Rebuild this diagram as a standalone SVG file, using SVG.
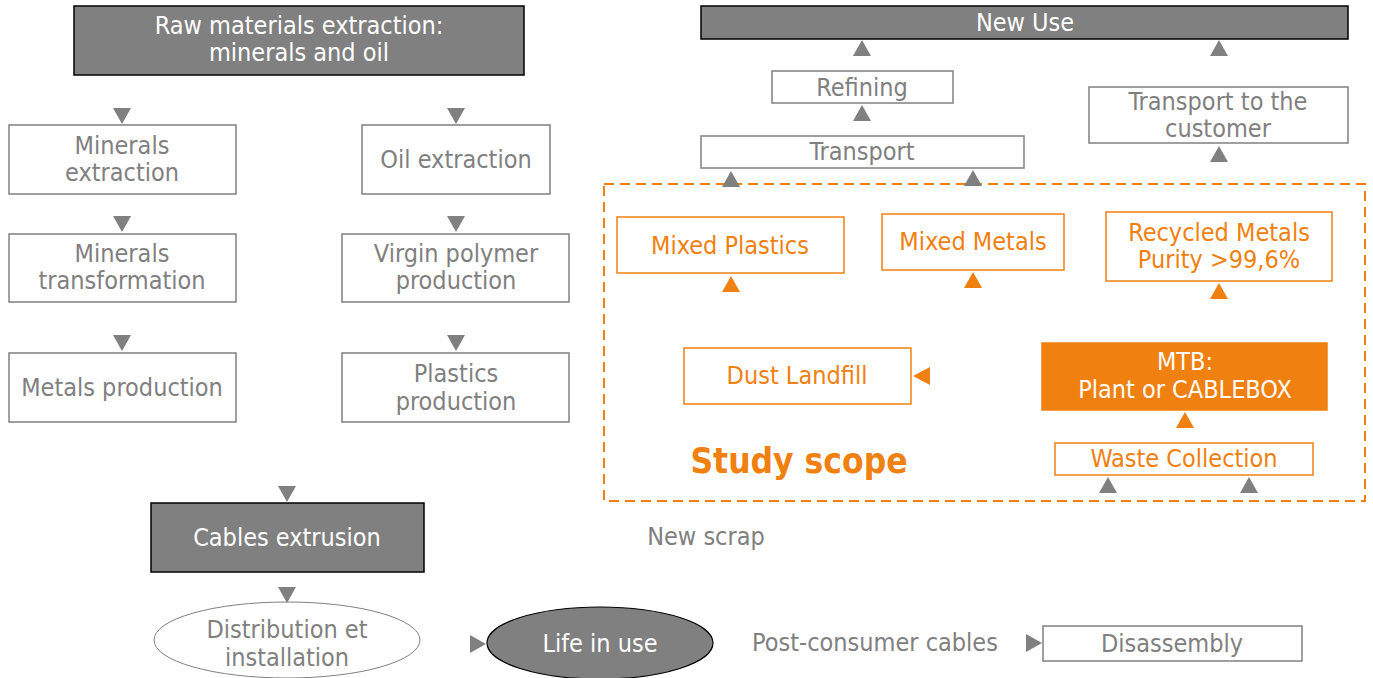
<svg xmlns="http://www.w3.org/2000/svg" width="1373" height="678" viewBox="0 0 1373 678">
<defs>
<style>
text{font-family:"DejaVu Sans Condensed","DejaVu Sans",sans-serif;font-size:25px;text-anchor:middle}
.g{fill:#808080}
.w{fill:#ffffff}
.o{fill:#F08010}
.bx{fill:#ffffff;stroke:#808080;stroke-width:1.5}
.dk{fill:#808080;stroke:#000000;stroke-width:1.5}
.ob{fill:#ffffff;stroke:#F08010;stroke-width:1.5}
.of{fill:#F08010;stroke:#F08010;stroke-width:1.5}
.ag{fill:#808080}
.ao{fill:#F08010}
</style>
</defs>
<rect x="604" y="184" width="761" height="317" fill="none" stroke="#F08010" stroke-width="2" stroke-dasharray="10,6"/>
<g id="raw"><rect class="dk" x="74" y="6" width="450" height="69"/><text class="w" x="299" y="34">Raw materials extraction:</text><text class="w" x="299" y="61">minerals and oil</text></g>
<g id="minext"><rect class="bx" x="9" y="125" width="227" height="69"/><text class="g" x="122" y="154">Minerals</text><text class="g" x="122" y="181">extraction</text></g>
<g id="oilext"><rect class="bx" x="362" y="125" width="188" height="69"/><text class="g" x="456" y="168">Oil extraction</text></g>
<g id="mintr"><rect class="bx" x="9" y="234" width="227" height="68"/><text class="g" x="122" y="262">Minerals</text><text class="g" x="122" y="289">transformation</text></g>
<g id="virgin"><rect class="bx" x="342" y="234" width="227" height="68"/><text class="g" x="456" y="262">Virgin polymer</text><text class="g" x="456" y="289">production</text></g>
<g id="metals"><rect class="bx" x="9" y="353" width="227" height="69"/><text class="g" x="122" y="396">Metals production</text></g>
<g id="plastics"><rect class="bx" x="342" y="353" width="227" height="69"/><text class="g" x="456" y="382">Plastics</text><text class="g" x="456" y="410">production</text></g>
<g id="cables"><rect class="dk" x="151" y="503" width="273" height="69"/><text class="w" x="287" y="546">Cables extrusion</text></g>
<g id="distrib"><ellipse cx="287" cy="640" rx="133" ry="38" fill="#ffffff" stroke="#808080" stroke-width="1"/><text class="g" x="287" y="638">Distribution et</text><text class="g" x="287" y="666">installation</text></g>
<g id="life"><ellipse cx="600" cy="643" rx="113" ry="36" fill="#808080" stroke="#000000" stroke-width="1.2"/><text class="w" x="600" y="652">Life in use</text></g>
<g id="postcons"><text class="g" x="875" y="651">Post-consumer cables</text></g>
<g id="disasm"><rect class="bx" x="1043" y="626" width="259" height="35"/><text class="g" x="1172" y="652">Disassembly</text></g>
<g id="newscrap"><text class="g" x="706" y="545">New scrap</text></g>
<g id="newuse"><rect class="dk" x="701" y="6" width="647" height="33"/><text class="w" x="1025" y="31">New Use</text></g>
<g id="refining"><rect class="bx" x="772" y="71" width="181" height="32"/><text class="g" x="862" y="96">Refining</text></g>
<g id="transport"><rect class="bx" x="701" y="136" width="323" height="32"/><text class="g" x="862" y="160">Transport</text></g>
<g id="transcust"><rect class="bx" x="1089" y="87" width="259" height="56"/><text class="g" x="1218" y="110">Transport to the</text><text class="g" x="1218" y="137">customer</text></g>
<g id="mixpl"><rect class="ob" x="617" y="217" width="227" height="56"/><text class="o" x="730" y="254">Mixed Plastics</text></g>
<g id="mixmet"><rect class="ob" x="882" y="214" width="182" height="56"/><text class="o" x="973" y="250">Mixed Metals</text></g>
<g id="recmet"><rect class="ob" x="1106" y="212" width="226" height="69"/><text class="o" x="1219" y="241">Recycled Metals</text><text class="o" x="1219" y="268">Purity &gt;99,6%</text></g>
<g id="dust"><rect class="ob" x="684" y="348" width="227" height="56"/><text class="o" x="797" y="384">Dust Landfill</text></g>
<g id="mtb"><rect class="of" x="1042" y="343" width="285" height="67"/><text class="w" x="1185" y="370">MTB:</text><text class="w" x="1185" y="398">Plant or CABLEBOX</text></g>
<g id="waste"><rect class="ob" x="1055" y="443" width="258" height="32"/><text class="o" x="1184" y="467">Waste Collection</text></g>
<g id="scope"><text class="o" x="799" y="473" style="font-weight:bold;font-size:35px">Study scope</text></g>
<g id="connectors">
<polygon class="ag" points="113,108 131,108 122,124"/>
<polygon class="ag" points="447,108 465,108 456,124"/>
<polygon class="ag" points="113,216 131,216 122,232"/>
<polygon class="ag" points="447,216 465,216 456,232"/>
<polygon class="ag" points="113,335 131,335 122,351"/>
<polygon class="ag" points="447,335 465,335 456,351"/>
<polygon class="ag" points="278,486 296,486 287,502"/>
<polygon class="ag" points="278,587 296,587 287,603"/>
<polygon class="ag" points="470,635 470,653 486,644"/>
<polygon class="ag" points="1026,634 1026,652 1042,643"/>
<polygon class="ag" points="853,56 871,56 862,40"/>
<polygon class="ag" points="1210,56 1228,56 1219,40"/>
<polygon class="ag" points="853,121 871,121 862,105"/>
<polygon class="ag" points="1210,162 1228,162 1219,146"/>
<polygon class="ag" points="722,187 740,187 731,171"/>
<polygon class="ag" points="964,186 982,186 973,170"/>
<polygon class="ag" points="1099,493 1117,493 1108,477"/>
<polygon class="ag" points="1240,493 1258,493 1249,477"/>
<polygon class="ao" points="722,292 740,292 731,276"/>
<polygon class="ao" points="964,288 982,288 973,272"/>
<polygon class="ao" points="1210,299 1228,299 1219,283"/>
<polygon class="ao" points="1176,428 1194,428 1185,412"/>
<polygon class="ao" points="930,367 930,385 913,376"/>
</g>
</svg>
